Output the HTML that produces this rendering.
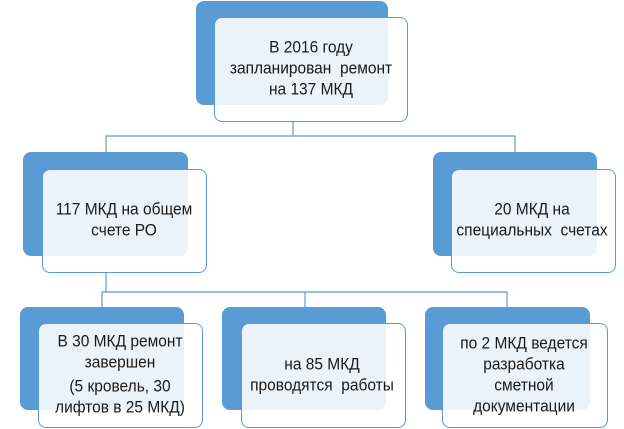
<!DOCTYPE html>
<html><head><meta charset="utf-8"><style>
html{height:429px;overflow:hidden;}
body{margin:0;width:624px;height:429px;overflow:hidden;background:#fff;position:relative;font-family:"Liberation Sans",sans-serif;}
.b{position:absolute;background:#5b9bd5;border-radius:8px;}
.w{position:absolute;background:rgba(255,255,255,0.87);border:1px solid #5b9bd5;border-radius:8px;box-sizing:border-box;}
.t{position:absolute;text-align:center;font-size:15.5px;line-height:19px;color:#1a1a1a;white-space:nowrap;transform:translateX(-50%) scaleY(1.1);}
svg{position:absolute;left:0;top:0;}
</style></head><body>
<svg width="624" height="429"><g stroke="#5b9bd5" stroke-width="1.2" fill="none">
<path d="M293 122V136M106 152V136H515V152"/>
<path d="M106 273V292M102 307V292H507V307M305 292V307"/>
</g></svg>
<div class="b" style="left:196px;top:1px;width:192px;height:104px"></div>
<div class="w" style="left:214px;top:17px;width:194px;height:105px"></div>
<div class="t" style="left:311px;top:40px">В 2016 году<br>запланирован&nbsp; ремонт<br>на 137 МКД</div>

<div class="b" style="left:23px;top:152px;width:165px;height:104px"></div>
<div class="w" style="left:42px;top:169px;width:165px;height:104px"></div>
<div class="t" style="left:124px;top:201px">117 МКД на общем<br>счете РО</div>

<div class="b" style="left:433px;top:152px;width:164px;height:104px"></div>
<div class="w" style="left:451px;top:169px;width:165px;height:104px"></div>
<div class="t" style="left:532px;top:201px">20 МКД на<br>специальных&nbsp; счетах</div>

<div class="b" style="left:20px;top:307px;width:164px;height:103px"></div>
<div class="w" style="left:38px;top:323px;width:165px;height:105px"></div>
<div class="t" style="left:120px;top:333px">В 30 МКД ремонт<br>завершен</div>
<div class="t" style="left:120px;top:378px">(5 кровель, 30<br>лифтов в 25 МКД)</div>

<div class="b" style="left:222px;top:307px;width:164px;height:103px"></div>
<div class="w" style="left:241px;top:323px;width:165px;height:105px"></div>
<div class="t" style="left:322px;top:356px">на 85 МКД<br>проводятся&nbsp; работы</div>

<div class="b" style="left:425px;top:307px;width:165px;height:103px"></div>
<div class="w" style="left:442px;top:323px;width:166px;height:105px"></div>
<div class="t" style="left:524px;top:337px">по 2 МКД ведется<br>разработка<br>сметной<br>документации</div>
</body></html>
